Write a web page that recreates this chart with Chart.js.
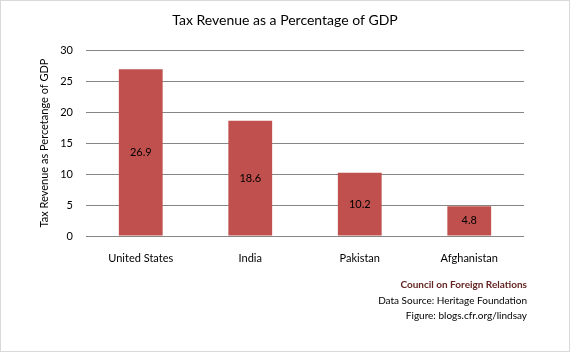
<!DOCTYPE html>
<html>
<head>
<meta charset="utf-8">
<script src="https://cdn.jsdelivr.net/npm/chart.js@4"></script>
<style>
  html, body { margin: 0; padding: 0; background: #fff; }
  #wrap { width: 570px; height: 352px; position: relative; }
</style>
</head>
<body>
<div id="wrap"><canvas id="taxChart" width="570" height="352"></canvas></div>
<script>
// data
const countries = ['United States', 'India', 'Pakistan', 'Afghanistan']
const taxShare = [26.9, 18.6, 10.2, 4.8]
const yTicks = [0, 5, 10, 15, 20, 25, 30]
const footerLines = ['Council on Foreign Relations', 'Data Source: Heritage Foundation', 'Figure: blogs.cfr.org/lindsay']

const FONT = 'Lato, "Open Sans", sans-serif'

// title, frame, value labels and footer
const decorPlugin = {
    id: 'decor',
    afterDraw(chart) {
        const ctx = chart.ctx
        ctx.save()
        // outer frame
        ctx.strokeStyle = '#d9d9d9'
        ctx.lineWidth = 1
        ctx.strokeRect(0.5, 0.5, chart.width - 1, chart.height - 1)

        // title
        ctx.fillStyle = '#000'
        ctx.font = '14px ' + FONT
        ctx.textAlign = 'center'
        ctx.textBaseline = 'middle'
        ctx.fillText('Tax Revenue as a Percentage of GDP', 285, 20)

        // value labels inside bars
        ctx.font = '11px ' + FONT
        const meta = chart.getDatasetMeta(0)
        meta.data.forEach((bar, i) => {
            const mid = (bar.y + bar.base) / 2
            ctx.fillText(String(taxShare[i]), bar.x, mid)
        })

        // footer
        ctx.textAlign = 'right'
        footerLines.forEach((txt, i) => {
            ctx.fillStyle = i === 0 ? '#632523' : '#000'
            ctx.font = (i === 0 ? 'bold ' : '') + '10px ' + FONT
            ctx.fillText(txt, 527, 285 + i * 15.5)
        })
        ctx.restore()
    }
}

new Chart(document.getElementById('taxChart'), {
    type: 'bar',
    data: {
        labels: countries,
        datasets: [
            {
                data: taxShare,
                backgroundColor: '#c0504d',
                borderWidth: 0,
                categoryPercentage: 1,
                barPercentage: 0.4
            }
        ]
    },
    options: {
        responsive: false,
        animation: false,
        layout: { padding: { top: 50, right: 46, left: 0, bottom: 0 } },
        plugins: {
            legend: { display: false },
            tooltip: { enabled: false }
        },
        scales: {
            x: {
                grid: { display: false },
                border: { display: false },
                ticks: { color: '#000', font: { family: FONT, size: 11 }, padding: 8, maxRotation: 0 },
                afterFit(scale) { scale.height = 116 }
            },
            y: {
                min: 0,
                max: 30,
                afterBuildTicks(scale) { scale.ticks = yTicks.map(v => ({ value: v })) },
                grid: { color: '#868686', drawTicks: false },
                border: { display: false },
                ticks: { color: '#000', font: { family: FONT, size: 11 }, padding: 13 },
                title: {
                    display: true,
                    text: 'Tax Revenue as Percetange of GDP',
                    color: '#000',
                    font: { family: FONT, size: 11 },
                    padding: { top: 38, bottom: 0 }
                },
                afterFit(scale) { scale.width = 86 }
            }
        }
    },
    plugins: [decorPlugin]
})
</script>
</body>
</html>
